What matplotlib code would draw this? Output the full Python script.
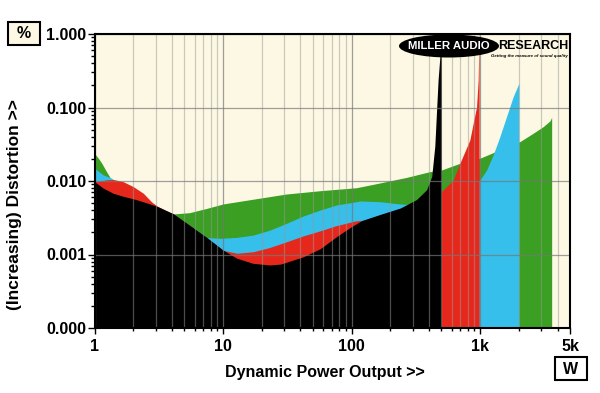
import numpy as np
import matplotlib
matplotlib.use('Agg')
import matplotlib.pyplot as plt
from matplotlib.ticker import LogLocator, NullFormatter
from matplotlib.patches import Ellipse, Rectangle

plt.rcParams['font.family'] = ['Liberation Sans', 'DejaVu Sans']

# distortion (%) vs dynamic power (W)
green_w = [1, 1.08, 1.14, 1.24, 1.35, 1.6, 2, 3, 4.1, 5.5, 7.5, 10, 17, 31, 57, 109, 147,
           268, 406, 500, 695, 995, 1262, 2036, 2584, 3090, 3500, 3600]
green_pct = [0.0238, 0.020, 0.0174, 0.0134, 0.0105, 0.0060, 0.0054, 0.0044, 0.00356, 0.00371,
             0.00425, 0.00487, 0.00564, 0.00665, 0.00738, 0.0081, 0.0090, 0.0112, 0.0134, 0.0141,
             0.0174, 0.0204, 0.0243, 0.0343, 0.0446, 0.0548, 0.066, 0.0736]

cyan_w = [1, 1.17, 1.36, 1.6, 2, 3, 4.1, 5.5, 7.5, 9.5, 12.8, 17.2, 23.2, 31.2, 42, 57, 76,
          109, 116, 166, 238, 280, 350, 500, 700, 995, 1122, 1262, 1422, 1603, 1806, 2000]
cyan_pct = [0.0149, 0.0121, 0.0109, 0.0085, 0.0064, 0.0045, 0.0035, 0.0025, 0.0017, 0.00166,
            0.00171, 0.00184, 0.00215, 0.00266, 0.00334, 0.00403, 0.00471, 0.00523, 0.00535,
            0.00523, 0.00487, 0.0048, 0.005, 0.006, 0.0075, 0.0103, 0.0141, 0.0226, 0.040,
            0.075, 0.140, 0.213]

red_w = [1, 1.1, 1.25, 1.4, 1.67, 2, 2.4, 2.78, 3.05, 4.1, 5.5, 7.5, 10, 12.8, 17.2, 23.2, 31.2,
         42, 57, 76, 109, 125, 166, 240, 320, 400, 500, 617, 695, 831, 938, 965, 975, 982]
red_pct = [0.0098, 0.0100, 0.0104, 0.0105, 0.0098, 0.0084, 0.0068, 0.0052, 0.0046, 0.0035,
           0.0025, 0.00165, 0.00114, 0.00104, 0.00109, 0.00125, 0.00149, 0.00179, 0.0021,
           0.00247, 0.00288, 0.0029, 0.0033, 0.004, 0.0048, 0.0058, 0.0072, 0.0103, 0.0174,
           0.0361, 0.1026, 0.237, 0.6, 1.5]

black_w = [1, 1.17, 1.4, 1.67, 2.1, 3, 4.1, 5.5, 7.5, 10, 12.8, 17, 23, 28, 42, 57, 78, 100,
           120, 166, 240, 320, 383, 420, 444, 458, 471, 486, 500]
black_pct = [0.0098, 0.0080, 0.0068, 0.0062, 0.0056, 0.0046, 0.0036, 0.0025, 0.0017, 0.00115,
             0.00089, 0.00076, 0.00072, 0.00074, 0.00093, 0.0012, 0.0018, 0.0024, 0.0029,
             0.0035, 0.0043, 0.0056, 0.0076, 0.0115, 0.03, 0.09, 0.24, 0.49, 0.9]

x_ticks = [1, 10, 100, 1000, 5000]
x_labels = ['1', '10', '100', '1k', '5k']
y_ticks = [1e-4, 1e-3, 1e-2, 1e-1, 1]
y_labels = ['0.000', '0.001', '0.010', '0.100', '1.000']

W, H = 600, 393
fig = plt.figure(figsize=(6, 3.93), dpi=100)
ax = fig.add_axes([94.5 / W, 1 - 328 / H, 475.5 / W, 294 / H])
ax.set_facecolor('#FCF8E3')
ax.set_xscale('log')
ax.set_yscale('log')

layers = [(green_w, green_pct, '#3A9F22'),
          (cyan_w, cyan_pct, '#36BFEA'),
          (red_w, red_pct, '#E6281C'),
          (black_w, black_pct, '#000000')]
for i, (xs, ys, c) in enumerate(layers):
    ax.fill_between(xs, 1e-5, ys, color=c, lw=0, zorder=1 + i * 0.1)

ax.set_xlim(1, 5000)
ax.set_ylim(1e-4, 1)

ax.set_xticks(x_ticks, x_labels)
ax.set_yticks(y_ticks, y_labels)
ax.xaxis.set_minor_locator(LogLocator(base=10, subs=np.arange(2, 10), numticks=20))
ax.yaxis.set_minor_locator(LogLocator(base=10, subs=np.arange(2, 10), numticks=20))
ax.xaxis.set_minor_formatter(NullFormatter())
ax.yaxis.set_minor_formatter(NullFormatter())

ax.set_axisbelow(False)
ax.xaxis.grid(True, which='minor', color='#999999', alpha=0.5, lw=0.9)
ax.xaxis.grid(True, which='major', color='#777777', alpha=0.7, lw=0.9)
ax.yaxis.grid(True, which='major', color='#777777', alpha=0.7, lw=0.9)

ax.tick_params(axis='y', which='major', length=5, width=1, pad=1, labelsize=11.5)
ax.tick_params(axis='y', which='minor', length=3, width=1)
ax.tick_params(axis='x', which='major', length=4, width=1, pad=4, labelsize=11.5)
ax.tick_params(axis='x', which='minor', length=2.5, width=1)
for lab in ax.get_xticklabels() + ax.get_yticklabels():
    lab.set_fontweight('bold')
for sp in ax.spines.values():
    sp.set_linewidth(1.5)
    sp.set_color('black')
    sp.set_zorder(3)

ax.set_xlabel('Dynamic Power Output >>', fontsize=11.5, fontweight='bold')
ax.xaxis.set_label_coords(0.485, -0.125)
ax.set_ylabel('(Increasing) Distortion >>', fontsize=12.5, fontweight='bold')
ax.yaxis.set_label_coords(-0.152, 0.42)

# unit boxes
fig.add_artist(Rectangle((8 / W, 1 - 45 / H), 32 / W, 23 / H, transform=fig.transFigure,
                         fc='#FCF8E3', ec='black', lw=1.5))
fig.text(24 / W, 1 - 34 / H, '%', fontsize=11.5, fontweight='bold', ha='center', va='center')
fig.add_artist(Rectangle((555 / W, 1 - 380 / H), 32 / W, 23 / H, transform=fig.transFigure,
                         fc='white', ec='black', lw=1.5))
fig.text(571 / W, 1 - 369 / H, 'W', fontsize=11.5, fontweight='bold', ha='center', va='center')

# logo
fig.add_artist(Ellipse((449 / W, 1 - 46 / H), 100 / W, 23 / H, transform=fig.transFigure,
                       fc='black', ec='none', zorder=5))
fig.text(449 / W, 1 - 46 / H, 'MILLER AUDIO', color='white', fontsize=8.2, fontweight='bold',
         ha='center', va='center', zorder=6)
fig.text(533 / W, 1 - 46 / H, 'RESEARCH', color='black', fontsize=9, fontweight='bold',
         ha='center', va='center', zorder=6)
fig.text(568 / W, 1 - 56.5 / H, 'Getting the measure of sound quality', fontsize=3.2,
         fontweight='bold', style='italic', ha='right', va='center', zorder=7)

fig.savefig('out.png', dpi=100)
